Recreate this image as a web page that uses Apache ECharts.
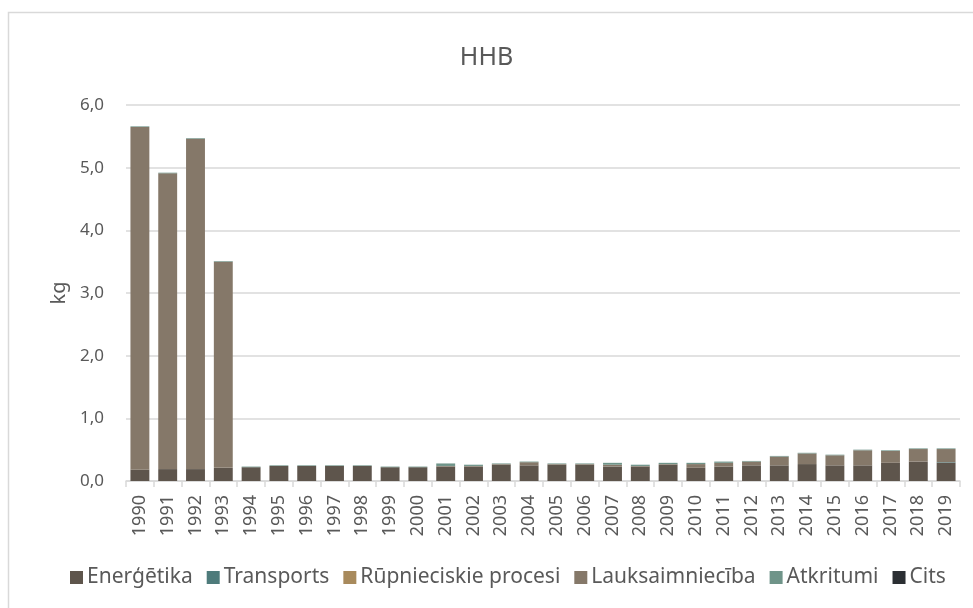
<!DOCTYPE html>
<html>
<head>
<meta charset="utf-8">
<script src="https://cdn.jsdelivr.net/npm/echarts@6/dist/echarts.min.js"></script>
<style>
  html, body { margin: 0; padding: 0; background: #fff; }
  #chart { width: 973px; height: 608px; }
</style>
</head>
<body>
<div id="chart"></div>
<script>
const years = ['1990','1991','1992','1993','1994','1995','1996','1997','1998','1999',
  '2000','2001','2002','2003','2004','2005','2006','2007','2008','2009',
  '2010','2011','2012','2013','2014','2015','2016','2017','2018','2019']

const energetika = [0.18,0.19,0.19,0.21,0.22,0.24,0.24,0.24,0.24,0.22,
  0.22,0.23,0.23,0.26,0.25,0.26,0.26,0.23,0.23,0.26,
  0.21,0.23,0.25,0.25,0.27,0.25,0.25,0.29,0.31,0.29]
const transports = [0,0,0,0,0,0,0,0,0,0,
  0,0,0,0,0,0,0,0,0,0,
  0,0,0,0,0,0,0,0,0,0.01]
const rupnieciba = [0,0,0,0,0,0,0,0,0,0,
  0,0,0,0,0,0,0,0,0,0,
  0,0,0,0,0,0,0,0,0,0]
const lauksaimnieciba = [5.47,4.72,5.27,3.29,0,0,0,0,0,0,
  0,0.01,0.01,0.01,0.05,0.01,0.01,0.03,0.01,0.01,
  0.06,0.06,0.06,0.14,0.17,0.16,0.24,0.19,0.20,0.21]
const atkritumi = [0.01,0.01,0.01,0.01,0.01,0.01,0.01,0.01,0.01,0.01,
  0.01,0.04,0.02,0.01,0.01,0.01,0.01,0.03,0.02,0.02,
  0.02,0.02,0.01,0.01,0.01,0.01,0.01,0.01,0.01,0.01]
const cits = [0,0,0,0,0,0,0,0,0,0,
  0,0,0,0,0,0,0,0,0,0,
  0,0,0,0,0,0,0,0,0,0]

const yTicks = [0, 1, 2, 3, 4, 5, 6]

let chart = echarts.init(document.getElementById('chart'))

const txt = '#595959'
const font = "'Noto Sans', sans-serif"

function mk(name, data, color) {
  return {
    name: name,
    type: 'bar',
    stack: 'all',
    barCategoryGap: '32%',
    itemStyle: { color: color },
    emphasis: { disabled: true },
    data: data
  }
}

const option = {
  animation: false,
  backgroundColor: '#fff',
  textStyle: { fontFamily: font },
  title: {
    text: 'HHB',
    left: 'center',
    top: 40,
    textStyle: { color: txt, fontSize: 25, fontWeight: 'normal', fontFamily: font }
  },
  graphic: [{
    type: 'rect',
    shape: { x: 8.5, y: 12.5, width: 1000, height: 700 },
    style: { fill: 'none', stroke: '#d9d9d9', lineWidth: 1.5 },
    silent: true
  }],
  legend: {
    bottom: 15,
    left: 65,
    itemWidth: 13,
    itemHeight: 13,
    itemGap: 14,
    icon: 'rect',
    textStyle: { color: txt, fontSize: 21, fontFamily: font, padding: [0, 0, 0, -1] }
  },
  grid: { left: 126, right: 13, top: 105, bottom: 127 },
  xAxis: {
    type: 'category',
    data: years,
    axisLine: { lineStyle: { color: '#d9d9d9', width: 1.5 } },
    axisTick: { show: true, length: 6, lineStyle: { color: '#d9d9d9', width: 1.5 } },
    axisLabel: { rotate: 90, color: txt, fontSize: 18, margin: 14, fontFamily: font }
  },
  yAxis: {
    type: 'value',
    min: yTicks[0],
    max: yTicks[yTicks.length - 1],
    interval: 1,
    name: 'kg',
    nameLocation: 'middle',
    nameGap: 56,
    nameTextStyle: { color: txt, fontSize: 20, fontFamily: font },
    axisLine: { show: false },
    axisTick: { show: false },
    axisLabel: {
      color: txt, fontSize: 17, margin: 22, fontFamily: font,
      formatter: v => v.toFixed(1).replace('.', ',')
    },
    splitLine: { lineStyle: { color: '#d9d9d9', width: 1.5 } }
  },
  series: [
    mk('Enerģētika', energetika, '#5e554c'),
    mk('Transports', transports, '#4e7b7b'),
    mk('Rūpnieciskie procesi', rupnieciba, '#a88a5c'),
    mk('Lauksaimniecība', lauksaimnieciba, '#857869'),
    mk('Atkritumi', atkritumi, '#6f9489'),
    mk('Cits', cits, '#2b2f33')
  ]
}

chart.setOption(option)
</script>
</body>
</html>
